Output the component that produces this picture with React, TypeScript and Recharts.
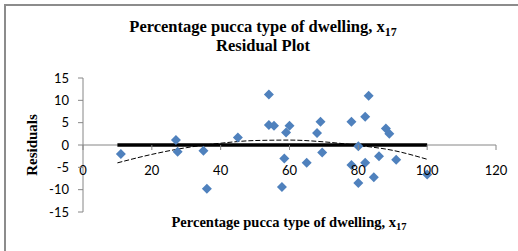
import {
  ComposedChart,
  Line,
  Scatter,
  XAxis,
  YAxis,
} from 'recharts'

// residuals
const pucca = [11, 27, 27.5, 35, 36, 45, 54, 54, 55.5, 57.8, 58.5, 59, 60, 65, 68, 69, 69.5, 78, 78, 80, 80, 82, 82, 83, 84.5, 86, 88, 89, 91, 100]
const residuals = [-2, 1.1, -1.5, -1.3, -9.8, 1.7, 11.3, 4.5, 4.3, -9.4, -3, 2.8, 4.3, -4, 2.7, 5.2, -1.7, 5.2, -4.5, -0.3, -8.5, 6.3, -4, 11, -7.2, -2.5, 3.7, 2.5, -3.3, -6.6]

const zeroX = [10, 100]
const zeroY = [0, 0]

const trendX = [10, 20, 30, 40, 50, 60, 70, 80, 90, 100]
const trendY = [-4, -2.1, -0.6, 0.4, 1.0, 1.1, 0.7, -0.1, -1.2, -3.2]

const xTicks = [0, 20, 40, 60, 80, 100, 120]
const yTicks = [-15, -10, -5, 0, 5, 10, 15]

const points = pucca.map((x, i) => ({ x, y: residuals[i] }))
const zeroLine = zeroX.map((x, i) => ({ x, y: zeroY[i] }))
const trend = trendX.map((x, i) => ({ x, y: trendY[i] }))

const W = 518
const H = 251
const TOP = 78
const BOTTOM = 212
const X_AXIS_H = 20
const AXIS_Y = (TOP + BOTTOM) / 2 // value 0 sits in the middle
const tickFont = 'Lato, "Open Sans", sans-serif'
const titleFont = '"Liberation Serif", "Times New Roman", serif'

function Diamond(props: any) {
  const { cx, cy } = props
  if (cx == null || cy == null) return <g />
  const r = 5
  return (
    <path
      d={`M${cx},${cy - r} L${cx + r},${cy} L${cx},${cy + r} L${cx - r},${cy} Z`}
      fill="#4F81BD"
    />
  )
}

// x axis crosses at y = 0, so ticks are drawn on that line
function XTick(props: any) {
  const { x, payload } = props
  return (
    <g>
      <line x1={x} x2={x} y1={AXIS_Y} y2={AXIS_Y + 5} stroke="#868686" />
      <text x={x} y={AXIS_Y + 30} textAnchor="middle" fontSize={13} fontFamily={tickFont} fill="#000">
        {payload.value}
      </text>
    </g>
  )
}

function YTick(props: any) {
  const { x, y, payload } = props
  return (
    <g>
      <line x1={x + 3} x2={x + 8} y1={y} y2={y} stroke="#868686" />
      <text x={x - 6} y={y + 4.5} textAnchor="end" fontSize={13} fontFamily={tickFont} fill="#000">
        {payload.value}
      </text>
    </g>
  )
}

export default function App() {
  return (
    <div style={{ position: 'relative', width: W, height: H, background: '#fff' }}>
      <style>{'body{margin:0}'}</style>
      <div
        style={{
          position: 'absolute',
          left: 4,
          top: 4,
          right: 0,
          bottom: 0,
          borderTop: '2px solid #8c8c8c',
          borderLeft: '2px solid #8c8c8c',
        }}
      />
      <ComposedChart
        width={W}
        height={H}
        margin={{ top: TOP, right: 22, bottom: H - BOTTOM - X_AXIS_H, left: 23 }}
        style={{ position: 'absolute', left: 0, top: 0 }}
      >
        <XAxis
          dataKey="x"
          type="number"
          domain={[0, 120]}
          ticks={xTicks}
          height={X_AXIS_H}
          axisLine={false}
          tickLine={false}
          tick={<XTick />}
          interval={0}
        />
        <YAxis
          type="number"
          domain={[-15, 15]}
          ticks={yTicks}
          width={60}
          axisLine={{ stroke: '#868686' }}
          tickLine={false}
          tick={<YTick />}
          interval={0}
        />
        <Line
          data={[{ x: 0, y: 0 }, { x: 120, y: 0 }]}
          dataKey="y"
          stroke="#868686"
          strokeWidth={1}
          dot={false}
          isAnimationActive={false}
        />
        <Line
          data={zeroLine}
          dataKey="y"
          stroke="#000"
          strokeWidth={3.5}
          dot={false}
          isAnimationActive={false}
        />
        <Line
          data={trend}
          dataKey="y"
          type="monotone"
          stroke="#000"
          strokeWidth={1}
          strokeDasharray="5 2"
          dot={false}
          isAnimationActive={false}
        />
        <Scatter data={points} dataKey="y" shape={<Diamond />} isAnimationActive={false} />
        <text x={263} y={32} textAnchor="middle" fontSize={16.5} fontWeight="bold" fontFamily={titleFont}>
          Percentage pucca type of dwelling, x
          <tspan fontSize={12} dy={4}>17</tspan>
        </text>
        <text x={263} y={51} textAnchor="middle" fontSize={16.5} fontWeight="bold" fontFamily={titleFont}>
          Residual Plot
        </text>
        <text x={289} y={227} textAnchor="middle" fontSize={14.5} fontWeight="bold" fontFamily={titleFont}>
          Percentage pucca type of dwelling, x
          <tspan fontSize={10.5} dy={3}>17</tspan>
        </text>
        <text
          x={37}
          y={145}
          textAnchor="middle"
          fontSize={15}
          fontWeight="bold"
          fontFamily={titleFont}
          transform="rotate(-90 37 145)"
        >
          Residuals
        </text>
      </ComposedChart>
    </div>
  )
}
